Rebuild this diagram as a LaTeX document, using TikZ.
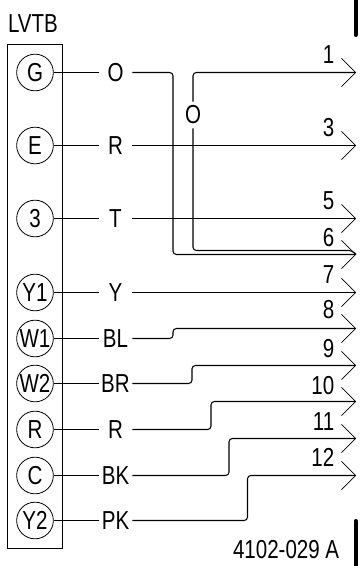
\documentclass[tikz,border=0pt]{standalone}
\usepackage{fontspec}
\usepackage{mathtools}
\setmainfont[FakeStretch=0.79]{Liberation Sans}
\usetikzlibrary{arrows.meta}
\newcommand{\lowtext}[1]{\raisebox{-1.4pt}{#1}}
\tikzset{
    term/.style={draw, circle, line width=0.6pt, inner sep=0pt, minimum size=27.5pt},
    wirelabel/.style={inner sep=0pt, minimum width=24.75pt, minimum height=15pt},
    wire/.style={line width=0.8pt, rounded corners=2.5pt},
    tipped/.style={wire, -{Straight Barb[length=10.5pt, width=21pt, line width=0.6pt, round]}},
    pinnum/.style={inner sep=0pt, anchor=south east}
}
\begin{document}
\begin{tikzpicture}[x=0.75pt, y=-0.75pt, font=\fontsize{19.5}{22}\selectfont]
    \useasboundingbox (0,0) rectangle (360,566);
    % terminal block
    \draw[line width=0.7pt] (7.5,44.5) rectangle (62.5,548);
    \node (lvtb) at (33,23.5) {LVTB};
    \node[term] (tG) at (35,72.5) {\clap{G}};
    \node[term] (tE) at (35,145.5) {\clap{E}};
    \node[term] (t3) at (35,218.5) {\clap{3}};
    \node[term] (tYa) at (35,292.5) {\clap{Y1}};
    \node[term] (tWa) at (35,338.5) {\clap{W1}};
    \node[term] (tWb) at (35,383.5) {\clap{W2}};
    \node[term] (tR) at (35,429.5) {\clap{R}};
    \node[term] (tC) at (35,475.5) {\clap{C}};
    \node[term] (tYb) at (35,520.5) {\clap{Y2}};
    % wire colours
    \node[wirelabel] (lO) at (115.5,72.5) {\lowtext{O}};
    \node[wirelabel] (lE) at (115.5,145.5) {\lowtext{R}};
    \node[wirelabel] (lT) at (115.5,218.5) {\lowtext{T}};
    \node[wirelabel] (lY) at (115.5,292.5) {Y};
    \node[wirelabel] (lBL) at (115.5,338.5) {\lowtext{BL}};
    \node[wirelabel] (lBR) at (115.5,383.5) {\lowtext{BR}};
    \node[wirelabel] (lR) at (115.5,429.5) {\lowtext{R}};
    \node[wirelabel] (lBK) at (115.5,475.5) {\lowtext{BK}};
    \node[wirelabel] (lPK) at (115.5,520.5) {\lowtext{PK}};
    \node[inner sep=0pt, minimum height=19.5pt] (lOb) at (193,115) {O};
    % plug pins
    \coordinate (p1) at (356,72.5);
    \coordinate (p3) at (356,145.5);
    \coordinate (p5) at (356,218.5);
    \coordinate (p6) at (356,254.5);
    \coordinate (p7) at (356,292.5);
    \coordinate (p8) at (356,328.5);
    \coordinate (p9) at (356,365.5);
    \coordinate (p10) at (356,401.5);
    \coordinate (p11) at (356,438.5);
    \coordinate (p12) at (356,475.5);
    \node[pinnum] (n1) at (334.5,63.5) {1};
    \node[pinnum] (n3) at (334.5,137) {3};
    \node[pinnum] (n5) at (334.5,210) {5};
    \node[pinnum] (n6) at (334.5,247) {6};
    \node[pinnum] (n7) at (334.5,283.5) {7};
    \node[pinnum] (n8) at (334.5,319) {8};
    \node[pinnum] (n9) at (334.5,358) {9};
    \node[pinnum] (n10) at (334.5,395) {10};
    \node[pinnum] (n11) at (334.5,431) {11};
    \node[pinnum] (n12) at (334.5,467) {12};
    % bends
    \coordinate (bO) at (173,254.5);
    \coordinate (bOb) at (352,250.5);
    \coordinate (bBL) at (173,328.5);
    \coordinate (bBR) at (192,365.5);
    \coordinate (bR) at (211,401.5);
    \coordinate (bBK) at (229,438.5);
    \coordinate (bPK) at (247.5,475.5);
    % terminal to label
    \draw[wire] (tG) -- (lO) (tE) -- (lE) (t3) -- (lT)
    (tYa) -- (lY) (tWa) -- (lBL) (tWb) -- (lBR)
    (tR) -- (lR) (tC) -- (lBK) (tYb) -- (lPK);
    % label to pin
    \draw[tipped] (lE) -- (p3);
    \draw[tipped] (lT) -- (p5);
    \draw[tipped] (lY) -- (p7);
    \draw[tipped] (lO) -| (bO) -- (p6);
    \draw[wire] (lOb) |- (bOb) -- (p6);
    \draw[tipped] (lOb) |- (p1);
    \draw[tipped] (lBL) -| (bBL) -- (p8);
    \draw[tipped] (lBR) -| (bBR) -- (p9);
    \draw[tipped] (lR) -| (bR) -- (p10);
    \draw[tipped] (lBK) -| (bBK) -- (p11);
    \draw[tipped] (lPK) -| (bPK) -- (p12);
    % frame marks and drawing number
    \draw[line width=3pt, line cap=round] (355.5,-3) -- (355.5,35);
    \draw[line width=3pt, line cap=round] (355.5,521) -- (355.5,570);
    \node[anchor=east, inner sep=0pt] (dwg) at (339.5,549.5) {4102-029 A};
\end{tikzpicture}
\end{document}
